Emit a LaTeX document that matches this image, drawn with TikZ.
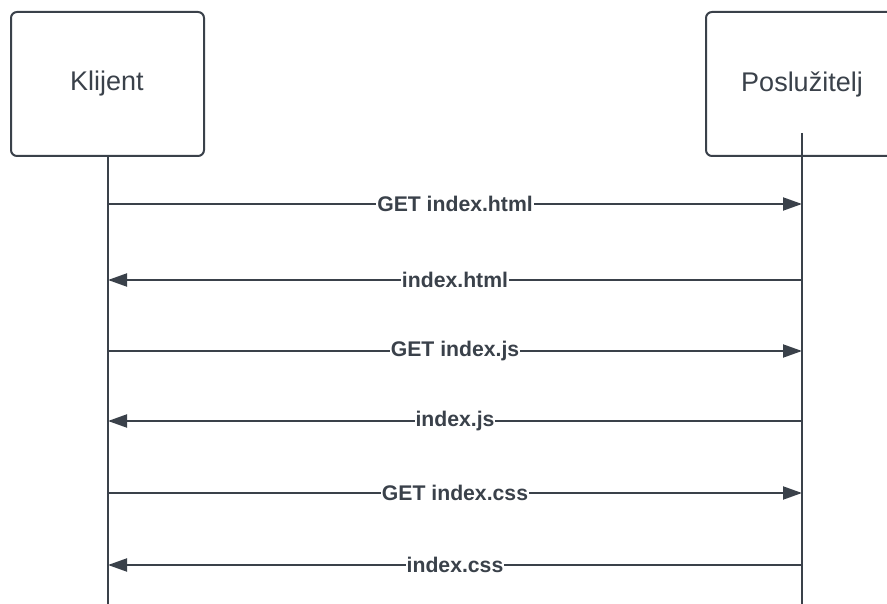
\documentclass[tikz,border=0pt]{standalone}
\usepackage{fontspec}
\setmainfont{Liberation Sans}
\usetikzlibrary{arrows.meta}
\definecolor{ink}{HTML}{3A414A}
\tikzset{
  actor/.style={draw=ink, line width=2pt, rounded corners=6pt, fill=white},
  actorname/.style={text=ink, font=\fontsize{27}{31}\selectfont},
  lifeline/.style={draw=ink, line width=2pt},
  msg/.style={draw=ink, line width=2pt, -{Triangle[length=19pt,width=13pt]}},
  msglabel/.style={fill=white, inner sep=1pt, text=ink,
    font=\bfseries\fontsize{21.2}{25}\selectfont},
}
\begin{document}
\begin{tikzpicture}[x=1pt,y=-1pt]
  \useasboundingbox (0,0) rectangle (887,604);
  \clip (0,0) rectangle (887,604);

  % participants
  \draw[actor] (11,12) rectangle (204,156);
  \node[actorname] (klijent) at (107,84) {Klijent};
  \draw[actor] (706,12) rectangle (898,156);
  \node[actorname] (server) at (802,84) {Poslužitelj};

  % lifelines
  \coordinate (ktop) at (108,156);
  \coordinate (kbot) at (108,604);
  \coordinate (stop) at (802,133);
  \coordinate (sbot) at (802,604);
  \draw[lifeline] (ktop) -- (kbot);
  \draw[lifeline] (stop) -- (sbot);

  % message anchors on the lifelines
  \foreach \i/\y in {1/204,2/280,3/351,4/421,5/493,6/565} {
    \coordinate (k\i) at (108,\y);
    \coordinate (s\i) at (802,\y);
  }

  % requests and responses
  \draw[msg] (k1) -- node[msglabel] {GET index.html} (s1);
  \draw[msg] (s2) -- node[msglabel] {index.html} (k2);
  \draw[msg] (k3) -- node[msglabel] {GET index.js} (s3);
  \draw[msg] (s4) -- node[msglabel] {index.js} (k4);
  \draw[msg] (k5) -- node[msglabel] {GET index.css} (s5);
  \draw[msg] (s6) -- node[msglabel] {index.css} (k6);
\end{tikzpicture}
\end{document}
